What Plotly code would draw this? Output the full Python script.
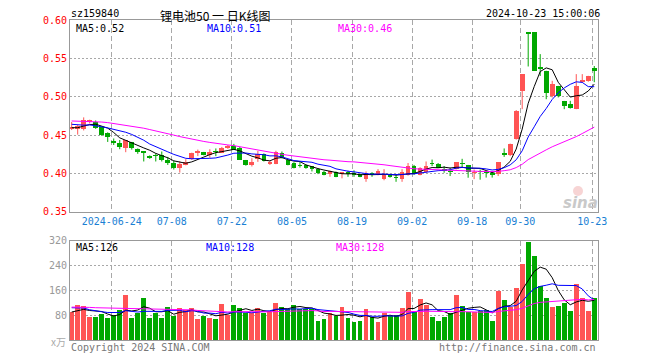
import plotly.graph_objects as go
import pandas as pd

# ---------------- data ----------------
dates = [
    "2024-06-13", "2024-06-14", "2024-06-17", "2024-06-18", "2024-06-19", "2024-06-20", "2024-06-21",
    "2024-06-24", "2024-06-25", "2024-06-26", "2024-06-27", "2024-06-28",
    "2024-07-01", "2024-07-02", "2024-07-03", "2024-07-04", "2024-07-05",
    "2024-07-08", "2024-07-09", "2024-07-10", "2024-07-11", "2024-07-12",
    "2024-07-15", "2024-07-16", "2024-07-17", "2024-07-18", "2024-07-19",
    "2024-07-22", "2024-07-23", "2024-07-24", "2024-07-25", "2024-07-26",
    "2024-07-29", "2024-07-30", "2024-07-31", "2024-08-01", "2024-08-02",
    "2024-08-05", "2024-08-06", "2024-08-07", "2024-08-08", "2024-08-09",
    "2024-08-12", "2024-08-13", "2024-08-14", "2024-08-15", "2024-08-16",
    "2024-08-19", "2024-08-20", "2024-08-21", "2024-08-22", "2024-08-23",
    "2024-08-26", "2024-08-27", "2024-08-28", "2024-08-29", "2024-08-30",
    "2024-09-02", "2024-09-03", "2024-09-04", "2024-09-05", "2024-09-06",
    "2024-09-09", "2024-09-10", "2024-09-11", "2024-09-12", "2024-09-13",
    "2024-09-18", "2024-09-19", "2024-09-20",
    "2024-09-23", "2024-09-24", "2024-09-25", "2024-09-26", "2024-09-27",
    "2024-09-30",
    "2024-10-08", "2024-10-09", "2024-10-10", "2024-10-11",
    "2024-10-14", "2024-10-15", "2024-10-16", "2024-10-17", "2024-10-18",
    "2024-10-21", "2024-10-22", "2024-10-23",
]

open_ = [
    0.458, 0.459, 0.458, 0.4665, 0.4665, 0.460, 0.453, 0.4405, 0.440, 0.433,
    0.4404, 0.432, 0.4272, 0.4226, 0.4232, 0.424, 0.418, 0.414, 0.407, 0.411,
    0.4187, 0.4275, 0.428, 0.4235, 0.4282, 0.427, 0.4326, 0.436, 0.4335, 0.417,
    0.411, 0.4185, 0.425, 0.4128, 0.4124, 0.427, 0.4176, 0.414, 0.4102, 0.411,
    0.409, 0.406, 0.4024, 0.399, 0.402, 0.3998, 0.4002, 0.3992, 0.399, 0.3927,
    0.401, 0.398, 0.3924, 0.398, 0.3945, 0.3927, 0.398, 0.410, 0.398, 0.402,
    0.4128, 0.4126, 0.406, 0.4022, 0.406, 0.4127, 0.4105, 0.4008, 0.4022, 0.4012,
    0.3992, 0.3987, 0.425, 0.4235, 0.4444, 0.5076, 0.584, 0.5839, 0.537, 0.5338,
    0.501, 0.5141, 0.4945, 0.491, 0.4845, 0.5194, 0.5207, 0.5368,
]
close = [
    0.461, 0.4615, 0.469, 0.4695, 0.4596, 0.450, 0.447, 0.4402, 0.4348, 0.4435,
    0.4326, 0.428, 0.427, 0.4196, 0.423, 0.418, 0.414, 0.407, 0.412, 0.415,
    0.427, 0.4278, 0.4245, 0.428, 0.428, 0.4335, 0.436, 0.431, 0.418, 0.4115,
    0.4154, 0.4254, 0.4163, 0.413, 0.4285, 0.420, 0.411, 0.4076, 0.410, 0.4067,
    0.406, 0.401, 0.398, 0.403, 0.3958, 0.400, 0.400, 0.399, 0.3954, 0.399,
    0.398, 0.4032, 0.398, 0.395, 0.3943, 0.4024, 0.409, 0.3989, 0.4076, 0.410,
    0.4125, 0.4074, 0.403, 0.402, 0.4148, 0.4125, 0.402, 0.401, 0.402, 0.401,
    0.399, 0.4148, 0.4245, 0.4388, 0.4815, 0.5294, 0.5825, 0.5338, 0.5366, 0.5054,
    0.5172, 0.501, 0.488, 0.4858, 0.5141, 0.522, 0.5272, 0.5329,
]
high = [
    0.467, 0.463, 0.473, 0.470, 0.469, 0.461, 0.4535, 0.4455, 0.4435, 0.4435,
    0.441, 0.4325, 0.4285, 0.4235, 0.426, 0.4285, 0.4215, 0.4165, 0.4155, 0.4185,
    0.427, 0.431, 0.428, 0.4315, 0.4325, 0.4345, 0.437, 0.4385, 0.4345, 0.4175,
    0.4198, 0.4293, 0.426, 0.416, 0.4295, 0.4285, 0.418, 0.4145, 0.4155, 0.4115,
    0.4095, 0.4065, 0.403, 0.4035, 0.4025, 0.4015, 0.4035, 0.404, 0.3995, 0.4025,
    0.4015, 0.4055, 0.4055, 0.3985, 0.398, 0.4055, 0.4135, 0.411, 0.408, 0.4155,
    0.418, 0.4135, 0.4095, 0.4075, 0.4148, 0.419, 0.411, 0.405, 0.405, 0.403,
    0.4018, 0.4148, 0.4325, 0.4388, 0.4825, 0.5294, 0.584, 0.5839, 0.5555, 0.5338,
    0.5207, 0.5141, 0.4945, 0.4946, 0.5294, 0.5294, 0.5272, 0.540,
]
low = [
    0.4565, 0.4505, 0.456, 0.465, 0.458, 0.449, 0.441, 0.437, 0.4315, 0.4276,
    0.431, 0.4255, 0.4155, 0.419, 0.4155, 0.4155, 0.411, 0.405, 0.401, 0.4105,
    0.4175, 0.4225, 0.4235, 0.4205, 0.4225, 0.4265, 0.432, 0.4305, 0.4175, 0.410,
    0.409, 0.415, 0.4155, 0.411, 0.412, 0.4195, 0.4105, 0.4065, 0.4075, 0.406,
    0.4025, 0.399, 0.3975, 0.3955, 0.395, 0.3935, 0.3955, 0.3955, 0.395, 0.389,
    0.3955, 0.3975, 0.391, 0.3945, 0.389, 0.389, 0.397, 0.398, 0.3975, 0.4005,
    0.4095, 0.407, 0.4008, 0.3965, 0.405, 0.4083, 0.3943, 0.3925, 0.3918, 0.3945,
    0.3945, 0.3965, 0.4215, 0.4225, 0.444, 0.4837, 0.5394, 0.5338, 0.527, 0.4967,
    0.499, 0.499, 0.4837, 0.4845, 0.4837, 0.518, 0.5195, 0.5189,
]
volume = [
    91, 113, 112, 74, 74, 86, 72, 81, 97, 145,
    72, 88, 135, 72, 88, 72, 106, 77, 103, 99,
    104, 69, 77, 72, 68, 116, 83, 113, 104, 88,
    88, 104, 88, 90, 119, 106, 101, 113, 101, 101,
    101, 61, 69, 88, 77, 106, 71, 58, 61, 100,
    74, 60, 88, 77, 82, 104, 155, 90, 133, 115,
    74, 61, 76, 88, 145, 112, 90, 90, 96, 98,
    62, 159, 129, 106, 168, 245, 316, 271, 174, 135,
    108, 110, 120, 95, 180, 135, 94, 136,
]

# sessions before the visible window (needed to seed the moving averages)
prior_closes = [
    0.468, 0.472, 0.475, 0.471, 0.466, 0.469, 0.474, 0.476, 0.472, 0.468,
    0.465, 0.470, 0.473, 0.471, 0.467, 0.469, 0.472, 0.470, 0.468, 0.474,
    0.472, 0.470, 0.466, 0.468, 0.466, 0.462, 0.458, 0.460, 0.457,
]
prior_volume = [
    110, 98, 120, 105, 95, 130, 102, 99, 115, 108,
    96, 112, 104, 118, 100, 93, 110, 107, 115, 103,
    125, 110, 130, 112, 112, 95, 88, 92, 85,
]

tick_dates = ["2024-06-24", "2024-07-08", "2024-07-22", "2024-08-05", "2024-08-19",
              "2024-09-02", "2024-09-18", "2024-09-30", "2024-10-23"]
tick_labels = ["2024-06-24", "07-08", "07-22", "08-05", "08-19",
               "09-02", "09-18", "09-30", "10-23"]

price_ticks = [0.35, 0.40, 0.45, 0.50, 0.55, 0.60]
volume_ticks = [80, 160, 240, 320]

code = "sz159840"
title = "锂电池50 一 日K线图"
stamp = "2024-10-23 15:00:06"
price_ma_labels = ["MA5:0.52", "MA10:0.51", "MA30:0.46"]
volume_ma_labels = ["MA5:126", "MA10:128", "MA30:128"]

# ---------------- derived ----------------
n = len(dates)
idx = list(range(n))
UP = "#ff5454"
DOWN = "#00a800"
MA_COLORS = ["#000000", "#0000ff", "#ff00ff"]
MONO = "DejaVu Sans Mono"

cs = pd.Series(prior_closes + close)
vs = pd.Series(prior_volume + volume)
k = len(prior_closes)
price_ma = [cs.rolling(w).mean().tolist()[k:] for w in (5, 10, 30)]
vol_ma = [vs.rolling(w).mean().tolist()[k:] for w in (5, 10, 30)]

is_up = [c >= o for o, c in zip(open_, close)]
colors = [UP if u else DOWN for u in is_up]

fig = go.Figure()

# wicks
for flag, col in ((True, UP), (False, DOWN)):
    wx, wy = [], []
    for i in idx:
        if is_up[i] == flag:
            wx += [i, i, None]
            wy += [low[i], high[i], None]
    fig.add_trace(go.Scatter(x=wx, y=wy, mode="lines", line=dict(color=col, width=1),
                             hoverinfo="skip", xaxis="x", yaxis="y"))

# bodies
body_base = [min(o, c) for o, c in zip(open_, close)]
body_h = [max(abs(c - o), 0.0009) for o, c in zip(open_, close)]
fig.add_trace(go.Bar(x=idx, y=body_h, base=body_base, width=0.8,
                     marker=dict(color=colors, line=dict(width=0)),
                     xaxis="x", yaxis="y"))

# price MAs
for ma, col in zip(price_ma, MA_COLORS):
    fig.add_trace(go.Scatter(x=idx, y=ma, mode="lines", line=dict(color=col, width=1),
                             xaxis="x", yaxis="y"))

# volume bars
fig.add_trace(go.Bar(x=idx, y=volume, width=0.82,
                     marker=dict(color=colors, line=dict(width=0)),
                     xaxis="x2", yaxis="y2"))
for ma, col in zip(vol_ma, MA_COLORS):
    fig.add_trace(go.Scatter(x=idx, y=ma, mode="lines", line=dict(color=col, width=1),
                             xaxis="x2", yaxis="y2"))

tick_pos = [dates.index(d) - 0.33 for d in tick_dates]

axis_common = dict(showline=True, mirror=True, linecolor="#999999", linewidth=1,
                   zeroline=False, ticks="", automargin=False)
# the page body has an 8px default margin, so the figure is shifted 8px
# right and down: the margins below compensate for that offset
fig.update_layout(
    width=660, height=360,
    margin=dict(l=62, r=70, t=12, b=28),
    paper_bgcolor="white", plot_bgcolor="white",
    showlegend=False, barmode="overlay", bargap=0,
    xaxis=dict(domain=[0, 1], anchor="y", range=[-0.28, 87.62],
               tickvals=tick_pos, ticktext=tick_labels,
               showgrid=True, gridcolor="#a8a8a8", griddash="5px,3px", gridwidth=1,
               tickfont=dict(family=MONO, size=10, color="#1a7fd4"), **axis_common),
    xaxis2=dict(domain=[0, 1], anchor="y2", matches="x", range=[-0.28, 87.62],
                tickvals=tick_pos, showticklabels=False,
                showgrid=True, gridcolor="#a8a8a8", griddash="5px,3px", gridwidth=1,
                **axis_common),
    yaxis=dict(domain=[0.4009, 1.0], anchor="x", range=[0.35, 0.60],
               tickvals=price_ticks, tickformat=".2f",
               showgrid=True, gridcolor="#a8a8a8", griddash="2px,2px", gridwidth=1,
               tickfont=dict(family=MONO, size=10, color="#ff0000"), **axis_common),
    yaxis2=dict(domain=[0, 0.3103], anchor="x2", range=[0, 320],
                tickvals=volume_ticks,
                showgrid=True, gridcolor="#a8a8a8", griddash="2px,2px", gridwidth=1,
                tickfont=dict(family=MONO, size=10, color="#999999"), **axis_common),
)

def px_x(p):
    return (p - 70) / 528.0

def px_y(p):
    return (340 - p) / 320.0

ann = []
def add_text(text, x, y, color="#000000", size=10, family=MONO, xanchor="left", **kw):
    ann.append(dict(text=text, x=px_x(x), y=px_y(y), xref="paper", yref="paper",
                    showarrow=False, xanchor=xanchor, yanchor="middle",
                    font=dict(family=family, size=size, color=color), **kw))

add_text(code, 69, 14)
add_text(title, 215, 15, size=12, family="Noto Sans CJK SC", xanchor="center",
         height=14, valign="middle")
add_text(stamp, 602, 14, xanchor="right")
for lab, x, col in zip(price_ma_labels, (74, 205, 336), MA_COLORS):
    add_text(lab, x, 28, color=col)
for lab, x, col in zip(volume_ma_labels, (74, 204, 334), MA_COLORS):
    add_text(lab, x, 247, color=col)
add_text("x万", 49, 341, color="#aaaaaa", size=10, family="Noto Sans CJK SC")
add_text("Copyright 2024 SINA.COM", 69, 347, color="#777777")
add_text("http://finance.sina.com.cn", 598, 347, color="#777777", xanchor="right")
add_text("<b><i>sina</i></b>", 580, 203, color="#c9c9c9", size=15, family="DejaVu Sans",
         xanchor="center")
fig.update_layout(annotations=ann)
# faint logo mark of the watermark
fig.add_shape(type="circle", xref="paper", yref="paper",
              x0=px_x(573), x1=px_x(583), y0=px_y(196), y1=px_y(186),
              line=dict(width=0), fillcolor="rgba(240,170,170,0.5)", layer="below")

fig.write_html("out.html")
